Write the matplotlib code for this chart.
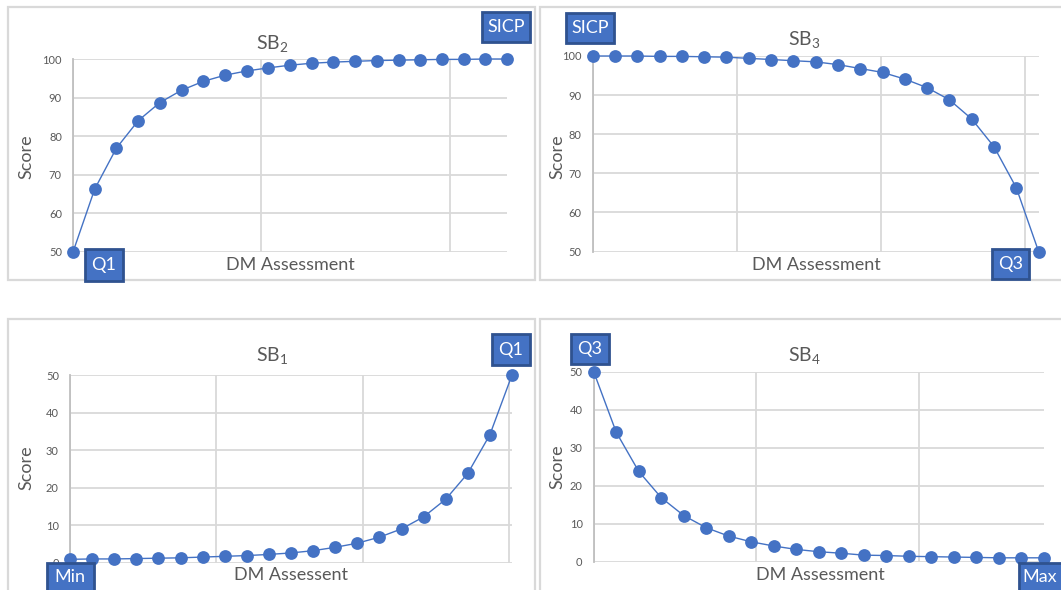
import matplotlib
matplotlib.use("Agg")
import matplotlib.pyplot as plt
from matplotlib.patches import Rectangle
from matplotlib.ticker import MultipleLocator

# Score curves (21 DM assessments each)
sb1 = [0.9, 1.0, 1.0, 1.1, 1.2, 1.3, 1.5, 1.7, 1.9, 2.2, 2.6, 3.2, 4.1, 5.2, 6.8, 9.0, 12.2, 16.9, 23.8, 34.1, 50]
sb2 = [50, 66.3, 76.9, 84.0, 88.7, 91.9, 94.2, 95.8, 96.9, 97.7, 98.4, 98.9, 99.2, 99.4, 99.6, 99.7, 99.8, 99.9, 99.9, 100, 100]
sb3 = [100, 100, 100, 99.9, 99.9, 99.8, 99.7, 99.4, 99.1, 98.8, 98.5, 97.8, 96.8, 95.8, 94.1, 91.9, 88.8, 83.9, 76.8, 66.3, 50]
sb4 = [50, 34.1, 23.8, 16.9, 12.2, 9.0, 6.8, 5.3, 4.2, 3.3, 2.7, 2.3, 1.8, 1.7, 1.5, 1.4, 1.3, 1.2, 1.1, 1.1, 1.1]

titles = ["$\\mathregular{SB_2}$", "$\\mathregular{SB_3}$", "$\\mathregular{SB_1}$", "$\\mathregular{SB_4}$"]
xlabels = ["DM Assessment", "DM Assessment", "DM Assessent", "DM Assessment"]
ylabel = "Score"
yticks_high = [50, 60, 70, 80, 90, 100]
yticks_low = [0, 10, 20, 30, 40, 50]
corner_labels = [("Q1", "SICP"), ("SICP", "Q3"), ("Min", "Q1"), ("Q3", "Max")]

W, H = 1061, 590
BLUE = "#4472C4"
EDGE = "#2F528F"
GRID = "#D9D9D9"
TXT = "#595959"

plt.rcParams['font.family'] = ['Lato', 'DejaVu Sans']
plt.rcParams['mathtext.fontset'] = 'custom'
plt.rcParams['mathtext.rm'] = 'Lato'

fig = plt.figure(figsize=(W / 100, H / 100), dpi=100)


def fx(x):
    return x / W


def fy(y):
    return 1 - y / H


def box(x0, y0, x1, y1, **kw):
    r = Rectangle((fx(x0), fy(y1)), fx(x1) - fx(x0), fy(y0) - fy(y1),
                  transform=fig.transFigure, **kw)
    fig.add_artist(r)


# panel frames (pixel coords: left, top, right, bottom)
frames = [(8, 7, 535, 280), (540, 7, 1066, 280), (8, 319, 535, 596), (540, 319, 1066, 596)]
for f in frames:
    box(*f, facecolor="white", edgecolor=GRID, lw=1.6, zorder=0)

# layout for each panel: axes box, grid step, text positions, label boxes
panels = [
    dict(data=sb2, ax=(73, 59, 507, 252), step=8.68, yt=yticks_high,
         title=(272, 43), xl=(290, 265), yl=(26, 157),
         boxes=[(85, 249, 123, 281, 104, 265), (482, 12, 530, 42, 506, 27)]),
    dict(data=sb3, ax=(592.6, 56, 1038.6, 251.5), step=6.46, yt=yticks_high,
         title=(804, 40), xl=(816, 265), yl=(557, 157),
         boxes=[(566, 13, 614, 43, 590, 28), (992, 249, 1029, 279, 1010.5, 264)]),
    dict(data=sb1, ax=(70, 375, 512, 562.7), step=6.62, yt=yticks_low,
         title=(272, 355), xl=(291, 575), yl=(26, 468),
         boxes=[(46.5, 563, 94, 594, 70, 577), (492, 334, 530, 365, 511, 349.5)]),
    dict(data=sb4, ax=(593.7, 371.7, 1044, 562), step=7.22, yt=yticks_low,
         title=(804, 355), xl=(820, 575), yl=(557, 467),
         boxes=[(571, 334, 609, 364, 590, 349), (1019, 563, 1075, 594, 1040, 577)]),
]

for i, p in enumerate(panels):
    l, t, r, b = p["ax"]
    ax = fig.add_axes([fx(l), fy(b), fx(r) - fx(l), fy(t) - fy(b)])
    ax.set_facecolor("none")
    xs = list(range(len(p["data"])))
    ax.plot(xs, p["data"], color=BLUE, lw=1.0, marker="o", markersize=9.2,
            markeredgewidth=0, clip_on=False, zorder=3)
    ax.set_xlim(0, len(xs) - 1)
    ax.set_ylim(p["yt"][0], p["yt"][-1])
    ax.set_yticks(p["yt"])
    ax.xaxis.set_major_locator(MultipleLocator(p["step"]))
    ax.grid(True, color=GRID, lw=1.3)
    ax.set_axisbelow(True)
    for s in ["top", "right", "bottom"]:
        ax.spines[s].set_visible(False)
    ax.spines["left"].set_color("#BFBFBF")
    ax.spines["left"].set_linewidth(1.3)
    ax.tick_params(axis="x", length=0, labelbottom=False)
    ax.tick_params(axis="y", length=0, pad=8, labelsize=8, labelcolor=TXT)

    fig.text(fx(p["title"][0]), fy(p["title"][1]), titles[i], ha="center", va="center",
             fontsize=14, color=TXT)
    fig.text(fx(p["xl"][0]), fy(p["xl"][1]), xlabels[i], ha="center", va="center",
             fontsize=13, color=TXT)
    fig.text(fx(p["yl"][0]), fy(p["yl"][1]), ylabel, ha="center", va="center",
             fontsize=13, color=TXT, rotation=90)

    for (x0, y0, x1, y1, tx, ty), lab in zip(p["boxes"], corner_labels[i]):
        box(x0, y0, x1, y1, facecolor=BLUE, edgecolor=EDGE, lw=2, zorder=5)
        fig.text(fx(tx), fy(ty), lab, ha="center", va="center", fontsize=13,
                 color="white", zorder=6)

fig.savefig("out.png", dpi=100)
